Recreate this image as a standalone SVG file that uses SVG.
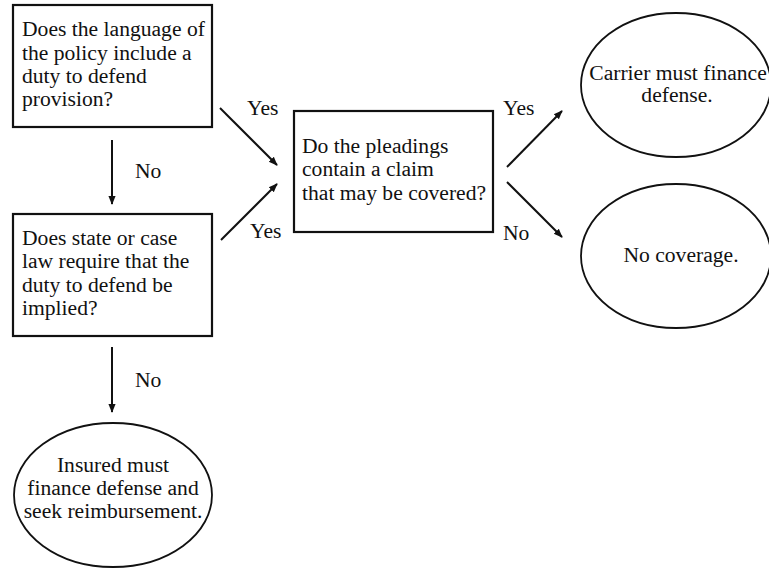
<svg xmlns="http://www.w3.org/2000/svg" width="769" height="571" viewBox="0 0 769 571">
<style>
text{font-family:"Liberation Serif","Times New Roman",serif;font-size:21.6px;fill:#111}
.c{text-anchor:middle}
.box{fill:#fff;stroke:#111;stroke-width:2.2}
.ell{fill:#fff;stroke:#111;stroke-width:1.8}
.edge{stroke:#111;stroke-width:2;fill:none;marker-end:url(#ah)}
</style>
<defs>
<marker id="ah" viewBox="0 0 10 10" refX="9" refY="5" markerWidth="4.5" markerHeight="4.5" orient="auto" markerUnits="strokeWidth">
<path d="M0,1 L10,5 L0,9 Z" fill="#111"/>
</marker>
</defs>
<rect width="769" height="571" fill="#fff"/>
<g id="connectors">
<line class="edge" x1="112" y1="140" x2="112" y2="204"/>
<text x="135" y="178">No</text>
<line class="edge" x1="112" y1="347" x2="112" y2="412"/>
<text x="135" y="387">No</text>
<line class="edge" x1="220" y1="108" x2="277" y2="165"/>
<text x="247" y="115">Yes</text>
<line class="edge" x1="221" y1="240" x2="277" y2="184"/>
<text x="250" y="238">Yes</text>
<line class="edge" x1="507" y1="167" x2="562" y2="111"/>
<text x="503" y="115">Yes</text>
<line class="edge" x1="507" y1="182" x2="562" y2="237"/>
<text x="503" y="240">No</text>
</g>
<g id="q1">
<rect class="box" x="13" y="5" width="199" height="122"/>
<text x="22" y="36">Does the language of</text>
<text x="22" y="60">the policy include a</text>
<text x="22" y="83">duty to defend</text>
<text x="22" y="106">provision?</text>
</g>
<g id="q2">
<rect class="box" x="13" y="214" width="199" height="122"/>
<text x="22" y="245">Does state or case</text>
<text x="22" y="268">law require that the</text>
<text x="22" y="292">duty to defend be</text>
<text x="22" y="315">implied?</text>
</g>
<g id="q3">
<rect class="box" x="294" y="111" width="199" height="121"/>
<text x="302" y="153">Do the pleadings</text>
<text x="302" y="176">contain a claim</text>
<text x="302" y="200">that may be covered?</text>
</g>
<g id="carrier">
<ellipse class="ell" cx="676" cy="85" rx="95" ry="72"/>
<text class="c" x="678" y="80">Carrier must finance</text>
<text class="c" x="677" y="102">defense.</text>
</g>
<g id="nocoverage">
<ellipse class="ell" cx="676" cy="256" rx="95" ry="72"/>
<text class="c" x="681" y="262">No coverage.</text>
</g>
<g id="insured">
<ellipse class="ell" cx="113" cy="495" rx="99" ry="72"/>
<text class="c" x="113" y="472">Insured must</text>
<text class="c" x="113" y="495">finance defense and</text>
<text class="c" x="113" y="518">seek reimbursement.</text>
</g>
</svg>
